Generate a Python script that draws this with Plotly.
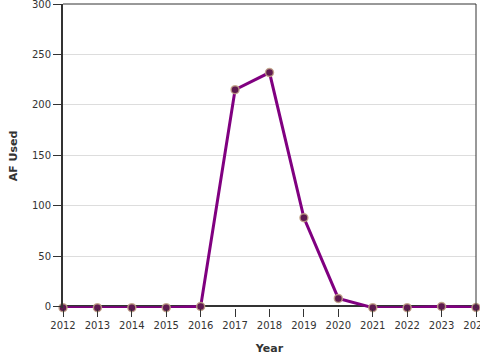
import plotly.graph_objects as go

years = [2012, 2013, 2014, 2015, 2016, 2017, 2018, 2019, 2020, 2021, 2022, 2023, 2024]
af_used = [-1.2, -1.2, -1.2, -1.2, 0, 215, 232, 88, 8, -1.2, -1.2, 0, -1]
y_ticks = [0, 50, 100, 150, 200, 250, 300]

fig = go.Figure()
fig.add_trace(go.Scatter(
    x=years, y=af_used, mode="lines+markers",
    line=dict(color="#800080", width=3),
    marker=dict(size=8, color="#5e1a50", line=dict(color="rgba(195,165,135,0.85)", width=1.5)),
    cliponaxis=False,
))

font = dict(family="DejaVu Sans", size=10, color="#333")
fig.update_layout(
    width=480, height=360,
    margin=dict(l=63, r=4, t=4, b=52, autoexpand=False),
    paper_bgcolor="white", plot_bgcolor="white",
    showlegend=False,
    font=font,
    xaxis=dict(
        range=[2012, 2024], tickmode="array", tickvals=years,
        ticktext=[str(y) for y in years],
        showgrid=False, zeroline=False,
        showline=False, automargin=False,
        ticks="outside", ticklen=8, tickcolor="#333", tickwidth=1,
        ticklabeloverflow="allow",
        title=dict(text="<b>Year</b>", font=dict(family="DejaVu Sans", size=11, color="#333"), standoff=14),
    ),
    yaxis=dict(
        range=[-1.5, 300], tickmode="array", tickvals=y_ticks,
        showgrid=True, gridcolor="#dddddd", gridwidth=1,
        zeroline=True, zerolinecolor="#333", zerolinewidth=2,
        showline=True, linecolor="#333", linewidth=2, automargin=False,
        ticks="outside", ticklen=8, tickcolor="#333", tickwidth=1,
        ticklabeloverflow="allow",
        title=dict(text="<b>AF Used</b>", font=dict(family="DejaVu Sans", size=11, color="#333"), standoff=12),
    ),
    shapes=[
        dict(type="line", xref="paper", yref="paper", x0=0, x1=1, y0=1, y1=1, line=dict(color="#333", width=1)),
        dict(type="line", xref="paper", yref="paper", x0=1, x1=1, y0=0, y1=1, line=dict(color="#333", width=1)),
    ],
)

fig.write_html("out.html")
